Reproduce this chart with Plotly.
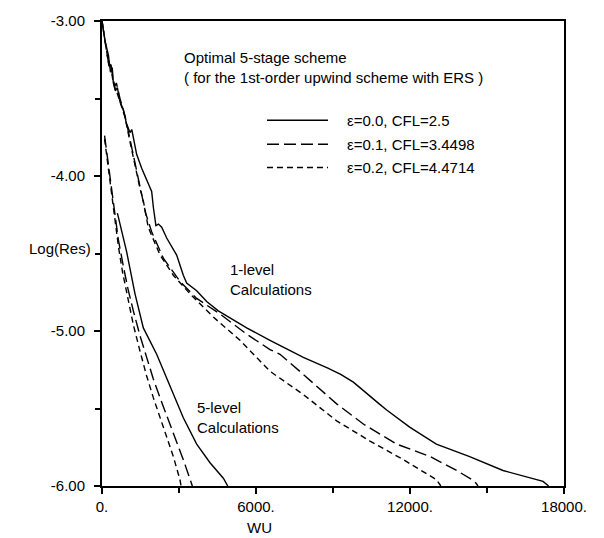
import plotly.graph_objects as go

# ---------------- data ----------------
# 1-level calculations
wu_1_e00 = [0, 120, 250, 330, 400, 441, 520, 600, 700, 830, 950, 1091, 1160, 1221, 1350, 1546, 1741,
            1935, 2000, 2100, 2200, 2326, 2520, 2909, 3168, 3298, 3688, 4078, 4532, 5636, 6545, 7844,
            8800, 9300, 9792, 10100, 10441, 10800, 11091, 11987, 13026, 14325, 15624, 17183, 17400]
lg_1_e00 = [-3.00, -3.13, -3.22, -3.33, -3.30, -3.40, -3.45, -3.43, -3.52, -3.57, -3.66, -3.72, -3.70,
            -3.76, -3.86, -3.95, -4.02, -4.10, -4.20, -4.32, -4.31, -4.33, -4.40, -4.51, -4.64, -4.69,
            -4.74, -4.81, -4.87, -4.98, -5.06, -5.17, -5.24, -5.28, -5.33, -5.37, -5.42, -5.47, -5.51,
            -5.62, -5.73, -5.81, -5.90, -5.97, -6.00]

wu_1_e01 = [0, 100, 200, 284, 330, 420, 500, 560, 700, 895, 1091, 1351, 1545, 1700, 1935, 2389, 3039,
            3689, 4597, 5636, 6545, 6935, 7844, 9143, 10182, 11481, 12780, 13819, 14520, 14650]
lg_1_e01 = [-3.00, -3.12, -3.22, -3.29, -3.27, -3.36, -3.42, -3.40, -3.50, -3.61, -3.76, -3.97, -4.12,
            -4.24, -4.36, -4.53, -4.68, -4.79, -4.89, -5.02, -5.12, -5.15, -5.28, -5.47, -5.60, -5.73,
            -5.81, -5.90, -5.97, -6.00]

wu_1_e02 = [0, 100, 200, 280, 340, 420, 520, 600, 700, 895, 1091, 1351, 1480, 1610, 1800, 2260, 2780,
            3428, 4337, 5376, 6545, 7844, 9143, 10441, 11740, 13039, 13200]
lg_1_e02 = [-3.00, -3.10, -3.21, -3.30, -3.28, -3.38, -3.44, -3.47, -3.52, -3.62, -3.78, -3.99, -4.08,
            -4.16, -4.33, -4.51, -4.64, -4.76, -4.91, -5.06, -5.26, -5.41, -5.58, -5.71, -5.83, -5.96,
            -6.00]

# 5-level calculations
wu_5_e00 = [600, 961, 1286, 1610, 2130, 2649, 3168, 3689, 4208, 4727, 4900]
lg_5_e00 = [-4.24, -4.49, -4.76, -4.98, -5.15, -5.36, -5.56, -5.73, -5.85, -5.95, -6.00]

wu_5_e01 = [100, 250, 400, 506, 636, 830, 1000, 1221, 1480, 1740, 2000, 2260, 2520, 2779, 3168, 3400, 3520]
lg_5_e01 = [-3.74, -3.93, -4.12, -4.27, -4.41, -4.58, -4.72, -4.87, -5.03, -5.17, -5.31, -5.43, -5.55,
            -5.66, -5.83, -5.94, -6.00]

wu_5_e02 = [100, 250, 400, 506, 636, 800, 1000, 1221, 1480, 1740, 2000, 2260, 2520, 2779, 3039, 3080]
lg_5_e02 = [-3.76, -3.95, -4.14, -4.29, -4.45, -4.62, -4.79, -4.96, -5.13, -5.29, -5.43, -5.56, -5.69,
            -5.81, -5.96, -6.00]

x_tickvals = [0, 6000, 12000, 18000]
x_ticktext = ["0.", "6000.", "12000.", "18000."]
y_tickvals = [-6, -5, -4, -3]
y_ticktext = ["-6.00", "-5.00", "-4.00", "-3.00"]

legend_labels = ["ε=0.0, CFL=2.5", "ε=0.1, CFL=3.4498", "ε=0.2, CFL=4.4714"]

# ---------------- styles ----------------
FONT = "Liberation Sans, Arial, Helvetica, sans-serif"
FS = 15
DASHES = ["solid", "12px,5px", "6px,4px"]
LW = 1.4

fig = go.Figure()
series = [
    (wu_1_e00, lg_1_e00, 0), (wu_1_e01, lg_1_e01, 1), (wu_1_e02, lg_1_e02, 2),
    (wu_5_e00, lg_5_e00, 0), (wu_5_e01, lg_5_e01, 1), (wu_5_e02, lg_5_e02, 2),
]
for xs, ys, k in series:
    fig.add_trace(go.Scatter(x=xs, y=ys, mode="lines", showlegend=False,
                             line=dict(color="black", width=LW, dash=DASHES[k]),
                             hoverinfo="skip"))

# legend sample lines
leg_y = [-3.64, -3.795, -3.945]
for k, yy in enumerate(leg_y):
    fig.add_shape(type="line", x0=6428, x1=8805, y0=yy, y1=yy, xref="x", yref="y",
                  line=dict(color="black", width=LW, dash=DASHES[k]))
    fig.add_annotation(x=9450, y=yy, xref="x", yref="y", text=legend_labels[k],
                       showarrow=False, xanchor="left", yanchor="middle",
                       font=dict(family=FONT, size=FS, color="black"))

annots = [
    (3117, -3.30, "Optimal 5-stage scheme<br>( for the 1st-order upwind scheme with ERS )"),
    (4909, -4.665, "1-level<br>Calculations"),
    (3623, -5.555, "5-level<br>Calculations"),
]
for x, y, t in annots:
    fig.add_annotation(x=x, y=y, xref="x", yref="y", text=t, showarrow=False,
                       xanchor="left", yanchor="middle", align="left",
                       font=dict(family=FONT, size=FS, color="black"))

fig.add_annotation(x=0, y=-4.47, xref="paper", yref="y", text="Log(Res)", showarrow=False,
                   xanchor="right", yanchor="middle", xshift=-9,
                   font=dict(family=FONT, size=FS, color="black"))
fig.add_annotation(x=6150, y=0, xref="x", yref="paper", text="WU", showarrow=False,
                   xanchor="center", yanchor="top", yshift=-31,
                   font=dict(family=FONT, size=FS, color="black"))

axis_common = dict(showgrid=False, zeroline=False, showline=True, linecolor="black",
                   linewidth=2, mirror=True, ticks="outside", tickcolor="black",
                   tickwidth=1.5, ticklen=6,
                   tickfont=dict(family=FONT, size=FS, color="black"))

fig.update_xaxes(range=[0, 18000], tickvals=x_tickvals, ticktext=x_ticktext,
                 minor=dict(tickvals=[3000, 9000, 15000], ticks="outside", ticklen=5,
                            tickwidth=1.5, tickcolor="black"),
                 **axis_common)
fig.update_yaxes(range=[-6, -3], tickvals=y_tickvals, ticktext=y_ticktext,
                 ticklabelstandoff=6,
                 minor=dict(tickvals=[-5.5, -4.5, -3.5], ticks="outside", ticklen=5,
                            tickwidth=1.5, tickcolor="black"),
                 **axis_common)

fig.update_layout(width=604, height=538, margin=dict(l=102, r=40, t=18, b=52),
                  paper_bgcolor="white", plot_bgcolor="white",
                  font=dict(family=FONT, size=FS, color="black"))

fig.write_html("out.html")
